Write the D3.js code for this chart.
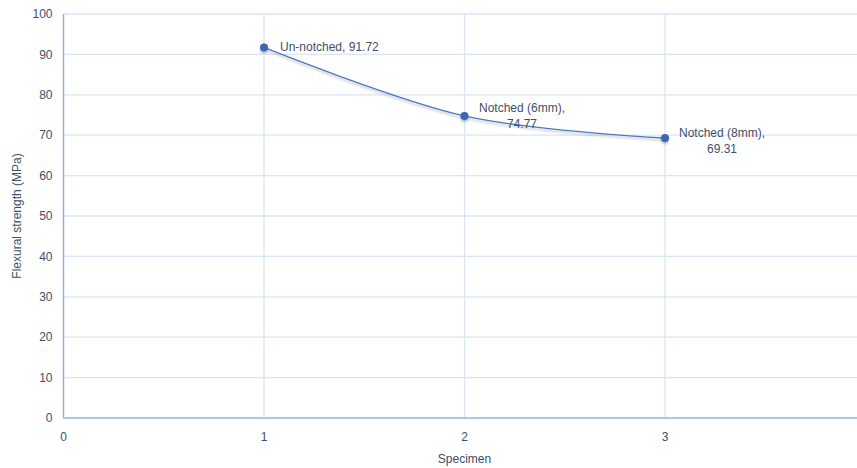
<!DOCTYPE html>
<html>
<head>
<meta charset="utf-8">
<script src="https://cdn.jsdelivr.net/npm/d3@7"></script>
<style>
  html, body { margin: 0; padding: 0; background: #fff; }
  svg { display: block; font-family: "Liberation Sans", Arial, sans-serif; }
</style>
</head>
<body>
<svg id="chart" width="857" height="468"></svg>
<script>
// Flexural strength per specimen
const specimens = [1, 2, 3];
const strengths = [91.72, 74.77, 69.31];
const pointLabels = [["Un-notched, 91.72"], ["Notched (6mm),", "74.77"], ["Notched (8mm),", "69.31"]];
const yTicks = [0, 10, 20, 30, 40, 50, 60, 70, 80, 90, 100];
const xTicks = [0, 1, 2, 3];

const svg = d3.select("#chart");
const W = 857, H = 468;
const plotLeft = 63.5, plotTop = 14, plotBottom = 418;

const x = d3.scaleLinear().domain([0, 4]).range([plotLeft, plotLeft + 4 * 200.5]);
const y = d3.scaleLinear().domain([0, 100]).range([plotBottom, plotTop]);

const textColor = "#3F4F69";
const gridColor = "#DAE5F3";
const axisColor = "#8FB3E0";

// horizontal gridlines
svg.append("g").selectAll("line").data(yTicks.filter(d => d > 0)).join("line")
  .attr("x1", plotLeft).attr("x2", W)
  .attr("y1", d => y(d)).attr("y2", d => y(d))
  .attr("stroke", gridColor).attr("stroke-width", 1.3);

// vertical gridlines
svg.append("g").selectAll("line").data(xTicks.filter(d => d > 0)).join("line")
  .attr("x1", d => x(d)).attr("x2", d => x(d))
  .attr("y1", plotTop).attr("y2", plotBottom)
  .attr("stroke", gridColor).attr("stroke-width", 1.3);

// axes
svg.append("line").attr("x1", plotLeft).attr("x2", plotLeft).attr("y1", plotTop).attr("y2", plotBottom)
  .attr("stroke", axisColor).attr("stroke-width", 1.5);
svg.append("line").attr("x1", plotLeft).attr("x2", W).attr("y1", plotBottom).attr("y2", plotBottom)
  .attr("stroke", axisColor).attr("stroke-width", 1.5);

// tick labels
svg.append("g").selectAll("text").data(yTicks).join("text")
  .attr("x", plotLeft - 11).attr("y", d => y(d)).attr("dy", "0.35em")
  .attr("text-anchor", "end").attr("font-size", 12).attr("fill", textColor)
  .text(d => d);
svg.append("g").selectAll("text").data(xTicks).join("text")
  .attr("x", d => x(d)).attr("y", plotBottom + 23)
  .attr("text-anchor", "middle").attr("font-size", 12).attr("fill", textColor)
  .text(d => d);

// axis titles
svg.append("text").attr("transform", `translate(21,${(plotTop + plotBottom) / 2}) rotate(-90)`)
  .attr("text-anchor", "middle").attr("font-size", 12).attr("fill", textColor)
  .text("Flexural strength (MPa)");
svg.append("text").attr("x", x(2)).attr("y", 463)
  .attr("text-anchor", "middle").attr("font-size", 12).attr("fill", textColor)
  .text("Specimen");

// soft shadow under the line
const defs = svg.append("defs");
const f = defs.append("filter").attr("id", "shadow").attr("x", "-10%").attr("y", "-10%").attr("width", "120%").attr("height", "140%");
f.append("feDropShadow").attr("dx", 0).attr("dy", 2).attr("stdDeviation", 1.2)
  .attr("flood-color", "#000").attr("flood-opacity", 0.25);

const pts = specimens.map((s, i) => [s, strengths[i]]);
const line = d3.line().x(d => x(d[0])).y(d => y(d[1])).curve(d3.curveCatmullRom.alpha(0));

svg.append("path").datum(pts).attr("d", line)
  .attr("fill", "none").attr("stroke", "#4A78C0").attr("stroke-width", 1.3)
  .attr("filter", "url(#shadow)");

svg.append("g").selectAll("circle").data(pts).join("circle")
  .attr("cx", d => x(d[0])).attr("cy", d => y(d[1])).attr("r", 4)
  .attr("fill", "#3A68B0").attr("filter", "url(#shadow)");

// data labels
const labelPos = [
  { dx: 16, dy: 4 },
  { dx: 14.5, dy: -4 },
  { dx: 14, dy: -1 }
];
pts.forEach((p, i) => {
  const lines = pointLabels[i];
  const px = x(p[0]) + labelPos[i].dx, py = y(p[1]) + labelPos[i].dy;
  const t = svg.append("text").attr("font-size", 12).attr("fill", textColor)
    .attr("x", px).attr("y", py).text(lines[0]);
  if (lines.length > 1) {
    // second line centered under the first
    const w = t.node().getComputedTextLength();
    svg.append("text").attr("font-size", 12).attr("fill", textColor)
      .attr("x", px + w / 2).attr("y", py + 16).attr("text-anchor", "middle").text(lines[1]);
  }
});
</script>
</body>
</html>
